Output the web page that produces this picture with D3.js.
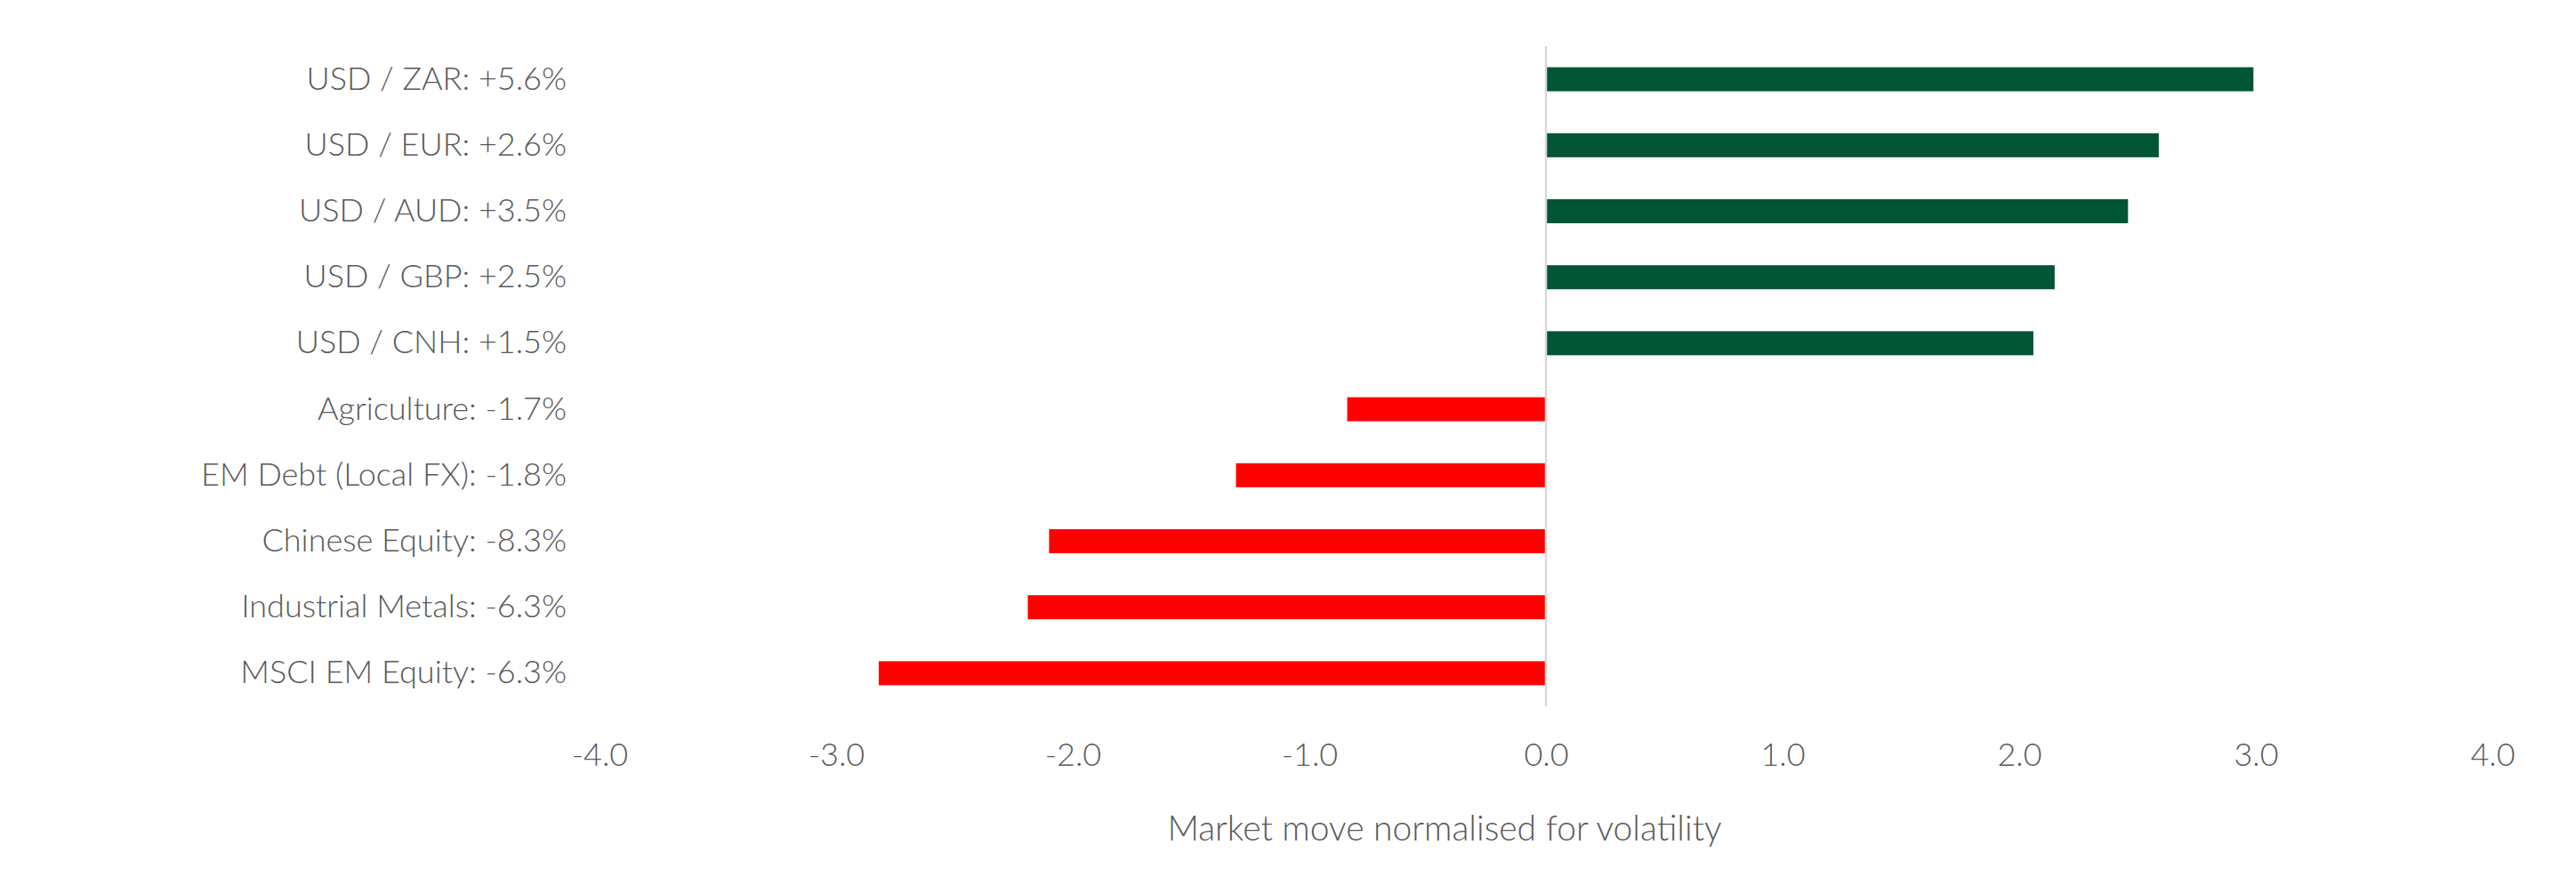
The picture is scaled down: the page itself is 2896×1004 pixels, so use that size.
<!DOCTYPE html>
<html>
<head>
<meta charset="utf-8">
<script src="https://cdn.jsdelivr.net/npm/d3@7"></script>
<style>
  html, body { margin: 0; padding: 0; background: #ffffff; }
  svg text { font-family: Lato, "Open Sans", sans-serif; font-weight: 300; fill: #595959; }
</style>
</head>
<body>
<svg id="chart" width="2896" height="1004"></svg>
<script>
const categories = [
  "USD / ZAR: +5.6%",
  "USD / EUR: +2.6%",
  "USD / AUD: +3.5%",
  "USD / GBP: +2.5%",
  "USD / CNH: +1.5%",
  "Agriculture: -1.7%",
  "EM Debt (Local FX): -1.8%",
  "Chinese Equity: -8.3%",
  "Industrial Metals: -6.3%",
  "MSCI EM Equity: -6.3%"
];
const values = [2.99, 2.59, 2.46, 2.15, 2.06, -0.84, -1.31, -2.10, -2.19, -2.82];
const xTicks = [-4, -3, -2, -1, 0, 1, 2, 3, 4];
const axisTitle = "Market move normalised for volatility";

const svg = d3.select("#chart");
const x = d3.scaleLinear().domain([-4, 4]).range([674, 2802]);
const y = d3.scaleBand().domain(categories).range([52, 794]).paddingInner(0.636).paddingOuter(0.318);

// bars
svg.append("g").selectAll("rect").data(categories).join("rect")
  .attr("x", (d, i) => x(Math.min(0, values[i])))
  .attr("y", d => y(d))
  .attr("width", (d, i) => Math.abs(x(values[i]) - x(0)))
  .attr("height", y.bandwidth())
  .attr("fill", (d, i) => values[i] >= 0 ? "#005534" : "#ff0000");

// zero line
svg.append("line")
  .attr("x1", x(0)).attr("x2", x(0))
  .attr("y1", 52).attr("y2", 794)
  .attr("stroke", "#d9d9d9").attr("stroke-width", 2.5);

// category axis
const yAxis = svg.append("g")
  .attr("transform", "translate(637,0)")
  .call(d3.axisLeft(y).tickSize(0).tickPadding(0));
yAxis.select(".domain").remove();
yAxis.selectAll("text")
  .style("font-size", "36px")
  .style("font-family", "Lato, 'Open Sans', sans-serif")
  .attr("fill", "#595959");

// value axis
const xAxis = svg.append("g")
  .attr("transform", "translate(0,835)")
  .call(d3.axisBottom(x).tickValues(xTicks).tickFormat(d3.format(".1f")).tickSize(0).tickPadding(0));
xAxis.select(".domain").remove();
xAxis.selectAll("text")
  .text(d => d3.format(".1f")(d).replace("−", "-"))
  .style("font-size", "36px")
  .style("font-family", "Lato, 'Open Sans', sans-serif")
  .attr("fill", "#595959");

// axis title
svg.append("text")
  .attr("x", 1624).attr("y", 935)
  .attr("text-anchor", "middle")
  .attr("dominant-baseline", "middle")
  .style("font-size", "39px")
  .text(axisTitle);
</script>
</body>
</html>
